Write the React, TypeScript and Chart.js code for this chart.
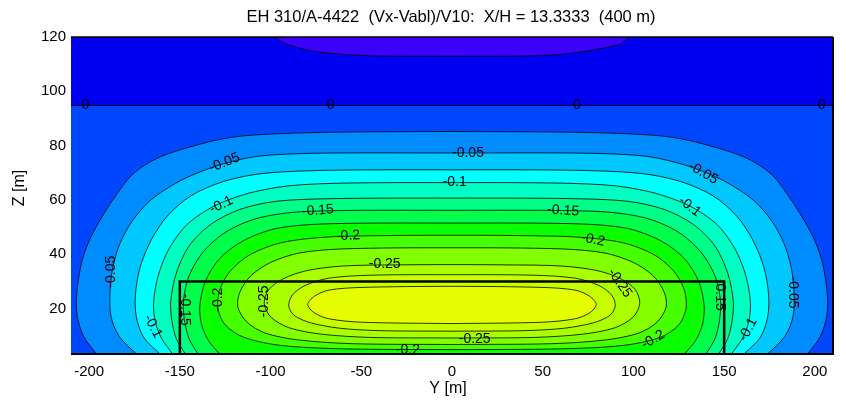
import React, { useEffect, useRef } from 'react';
import { Chart, registerables } from 'chart.js';

Chart.register(...registerables);

// ---------- text ----------
const TITLE = 'EH 310/A-4422  (Vx-Vabl)/V10:  X/H = 13.3333  (400 m)';
const X_TITLE = 'Y [m]';
const Y_TITLE = 'Z [m]';

// ---------- axes ----------
const Y_TICKS = [-200, -150, -100, -50, 0, 50, 100, 150, 200];
const Z_TICKS = [20, 40, 60, 80, 100, 120];
const Y_MIN = -210;
const Y_MAX = 210;
const Z_MIN = 3.3;
const Z_MAX = 120;

// ---------- contour levels (value of each closed contour) ----------
const LEVELS = [0.025, 0, -0.025, -0.05, -0.075, -0.1, -0.125, -0.15, -0.175, -0.2, -0.225, -0.25, -0.275, -0.3];

// band colours: [above +0.025, 0..0.025, -0.025..0, ..., below -0.3]
const BAND_COLORS = [
  '#3c00ff', '#0000f2', '#0046ff', '#008cff', '#00c8ff', '#00ffff', '#00ffc3',
  '#00ff87', '#00ff4b', '#0aff00', '#46ff00', '#82ff00', '#aaff00', '#c8ff00', '#e6ff00',
];

// ---------- contour lines: [Y (m), Z (m)] ----------
const FIELD_EDGE = [[-210, 0], [-210, 125], [210, 125], [210, 0]];
const LINE_P025 = [[-99.6, 120.5], [-91.3, 117.4], [-78.4, 115], [-60, 113.6], [-41, 113], [0, 112.9], [41, 113], [60, 113.6], [76, 115], [92.4, 117.3], [98.9, 120.5]];
const LINE_0 = [[-210, 94.8], [210, 94.8]];
const LINE_M025 = [[-196, 3.3], [-203, 9.7], [-206.5, 17], [-207, 24], [-204.5, 36], [-200, 45], [-194.5, 52], [-187, 60], [-176, 69.5], [-161, 75.8], [-137, 80.9], [-121, 83.1], [-105, 84.1], [-70, 84.9], [0, 85.2], [70, 84.9], [105, 84.1], [121, 83.1], [137, 80.9], [161, 75.8], [176, 69.5], [187, 60], [194.5, 52], [200, 45], [204.5, 36], [207, 24], [206.5, 17], [203, 9.7], [196, 3.3]];
const LINE_M050 = [[-174, 3.3], [-183.5, 9.8], [-188, 17.2], [-188.5, 26], [-187, 35], [-183, 44], [-176, 52.5], [-166, 60], [-150, 67], [-130, 72.5], [-108, 76], [-75, 77.2], [0, 77.3], [75, 77.2], [108, 76], [130, 72.5], [150, 67], [166, 60], [176, 52.5], [183, 44], [187, 35], [188.5, 26], [188, 17.2], [183.5, 9.8], [174, 3.3]];
const LINE_M075 = [[-161, 3.3], [-170, 9.5], [-174, 17], [-174.5, 25], [-172, 35], [-166, 45], [-157, 54], [-144, 61.5], [-126, 66.8], [-105, 69.7], [-70, 70.9], [0, 71.1], [70, 70.9], [105, 69.7], [126, 66.8], [144, 61.5], [157, 54], [166, 45], [172, 35], [174.5, 25], [174, 17], [170, 9.5], [161, 3.3]];
const LINE_M100 = [[-154, 3.3], [-160, 9], [-163.5, 15], [-164.5, 22], [-162, 32], [-156, 42], [-146, 51], [-131, 57.8], [-112, 62.5], [-90, 65.2], [-60, 66.2], [0, 66.4], [60, 66.2], [90, 65.2], [112, 62.5], [131, 57.8], [146, 51], [156, 42], [162, 32], [164.5, 22], [163.5, 15], [160, 9], [154, 3.3]];
const LINE_M125 = [[-147, 3.3], [-152, 9], [-154.5, 16], [-155, 23], [-152, 33], [-145, 43], [-133, 51], [-117, 56.5], [-97, 59.5], [-65, 60.5], [0, 60.7], [65, 60.5], [97, 59.5], [117, 56.5], [133, 51], [145, 43], [152, 33], [155, 23], [154.5, 16], [152, 9], [147, 3.3]];
const LINE_M150 = [[-140, 3.3], [-145, 9], [-147.5, 16], [-148, 23], [-145, 32], [-137, 41], [-124, 48.5], [-106, 53.5], [-80, 55.8], [0, 56.2], [80, 55.8], [106, 53.5], [124, 48.5], [137, 41], [145, 32], [148, 23], [147.5, 16], [145, 9], [140, 3.3]];
const LINE_M175 = [[-128, 3.3], [-134, 8], [-138, 14], [-139, 21], [-136, 30], [-128, 38.5], [-115, 45], [-97, 49.5], [-70, 51.2], [0, 51.5], [70, 51.2], [97, 49.5], [115, 45], [128, 38.5], [136, 30], [139, 21], [138, 14], [134, 8], [128, 3.3]];
const LINE_M200 = [[0, 4.9], [-60, 5.2], [-95, 6.5], [-115, 9.5], [-125, 14], [-129, 20], [-128, 27], [-122, 34], [-111, 40], [-94, 44.3], [-70, 46.3], [-35, 46.9], [0, 47], [35, 46.9], [70, 46.3], [94, 44.3], [111, 40], [122, 34], [128, 27], [129, 20], [125, 14], [115, 9.5], [95, 6.5], [60, 5.2], [0, 4.9]];
const LINE_M225 = [[0, 6.8], [-55, 7.1], [-85, 8.5], [-103, 11], [-113, 15], [-118, 20.5], [-117, 26], [-111, 32], [-100, 37], [-84, 40.5], [-60, 42], [0, 42.4], [60, 42], [84, 40.5], [100, 37], [111, 32], [117, 26], [118, 20.5], [113, 15], [103, 11], [85, 8.5], [55, 7.1], [0, 6.8]];
const LINE_M250 = [[0, 9.2], [-45, 9.4], [-72, 10.6], [-90, 13], [-100, 17], [-103.5, 22], [-101, 27], [-93, 31], [-80, 34], [-60, 35.7], [-30, 36.1], [0, 36.2], [30, 36.1], [60, 35.7], [80, 34], [93, 31], [101, 27], [103.5, 22], [100, 17], [90, 13], [72, 10.6], [45, 9.4], [0, 9.2]];
const LINE_M275 = [[0, 11.7], [-40, 11.9], [-62, 12.8], [-78, 14.8], [-87, 17.5], [-90, 21], [-88, 25], [-81, 28.5], [-68, 31.2], [-45, 32.3], [0, 32.5], [45, 32.3], [68, 31.2], [81, 28.5], [88, 25], [90, 21], [87, 17.5], [78, 14.8], [62, 12.8], [40, 11.9], [0, 11.7]];
const LINE_M300 = [[0, 14.5], [-50, 15], [-68, 16.3], [-76, 18.5], [-79.5, 21.5], [-76, 24.5], [-68, 26.8], [-50, 27.8], [0, 28.2], [50, 27.8], [68, 26.8], [76, 24.5], [79.5, 21.5], [76, 18.5], [68, 16.3], [50, 15], [0, 14.5]];

// zero band (below the 0 line)
const ZERO_BAND = [[-210, 0], [-210, 94.8], [210, 94.8], [210, 0]];

// building outline
const BUILDING = [[-150, 0], [-150, 30], [150, 30], [150, 0]];

// contour labels: [text, Y, Z, angle (deg)]
const LABELS: [string, number, number, number][] = [
  ['0', -202, 94.8, 0], ['0', -66.9, 94.8, 0], ['0', 68.8, 94.8, 0], ['0', 203.8, 94.8, 0],
  ['-0.05', -125.4, 73.7, -22], ['-0.05', 8.8, 77.3, 0], ['-0.05', 138.4, 69.9, 30],
  ['-0.05', -187.7, 33.6, -90], ['-0.05', 187.9, 25.9, 90],
  ['-0.1', 1.5, 66.4, 0], ['-0.1', -127.2, 58.2, -25], ['-0.1', 131, 57.6, 38],
  ['-0.1', -164.9, 13.5, 62], ['-0.1', 163.2, 12.3, -62],
  ['-0.15', -73.9, 56.1, -4], ['-0.15', 61.2, 56.1, 4], ['-0.15', -147.4, 19.6, 90], ['-0.15', 147.6, 25.1, 90],
  ['-0.2', -57.3, 46.8, -3], ['-0.2', 77.7, 45.4, 12], ['-0.2', -129, 23.3, -90], ['-0.2', -24.3, 4.9, 0], ['-0.2', 110.8, 8.6, -30],
  ['-0.25', -37.1, 36.2, 0], ['-0.25', -103.3, 22.7, -90], ['-0.25', 92.5, 29.4, 55], ['-0.25', 12.5, 8.9, 0],
];

const FONT = '"Liberation Sans", Arial, Helvetica, sans-serif';

export default function App() {
  const ref = useRef<HTMLCanvasElement>(null);

  useEffect(() => {
    const canvas = ref.current;
    if (!canvas) return;

    const toXY = (pts: number[][]) => pts.map(([x, y]) => ({ x, y }));

    // paint order: outermost first
    const paint: { pts: number[][]; fill: string | false; bw: number; color: string; tension: number }[] = [
      { pts: FIELD_EDGE, fill: BAND_COLORS[1], bw: 0, color: 'rgba(0,0,0,0)', tension: 0 },
      { pts: ZERO_BAND, fill: BAND_COLORS[2], bw: 0, color: 'rgba(0,0,0,0)', tension: 0 },
      { pts: LINE_P025, fill: BAND_COLORS[0], bw: 0.8, color: '#000', tension: 0.2 },
    ];
    const contourLines = [LINE_M025, LINE_M050, LINE_M075, LINE_M100, LINE_M125, LINE_M150, LINE_M175, LINE_M200, LINE_M225, LINE_M250, LINE_M275, LINE_M300];
    contourLines.forEach((pts, i) => {
      paint.push({ pts, fill: BAND_COLORS[i + 3], bw: 0.8, color: '#000', tension: 0.3 });
    });
    paint.push({ pts: LINE_0, fill: false, bw: 1, color: '#00002a', tension: 0 });
    paint.push({ pts: BUILDING, fill: false, bw: 2.5, color: '#000', tension: 0 });

    const n = paint.length;
    const datasets = paint.map((p, i) => ({
      label: i === 2 ? String(LEVELS[0]) : '',
      data: toXY(p.pts),
      showLine: true,
      fill: p.fill ? 'shape' : false,
      backgroundColor: p.fill || 'rgba(0,0,0,0)',
      borderColor: p.color,
      borderWidth: p.bw,
      pointRadius: 0,
      pointHoverRadius: 0,
      tension: p.tension,
      order: n - i,
    }));

    const decor = {
      id: 'decor',
      afterDatasetsDraw(chart: any) {
        const { ctx, chartArea: a, scales } = chart;
        ctx.save();
        ctx.beginPath();
        ctx.rect(a.left, a.top, a.right - a.left, a.bottom - a.top);
        ctx.clip();
        ctx.fillStyle = '#000';
        ctx.font = `14px ${FONT}`;
        ctx.textAlign = 'center';
        ctx.textBaseline = 'middle';
        for (const [t, y, z, ang] of LABELS) {
          const px = scales.x.getPixelForValue(y);
          const py = scales.y.getPixelForValue(z);
          ctx.save();
          ctx.translate(px, py);
          ctx.rotate((ang * Math.PI) / 180);
          ctx.fillText(t, 0, 0);
          ctx.restore();
        }
        ctx.restore();

        // frame
        ctx.save();
        ctx.strokeStyle = '#000';
        ctx.lineWidth = 1.5;
        ctx.beginPath();
        ctx.moveTo(a.left, a.top);
        ctx.lineTo(a.right, a.top);
        ctx.stroke();
        ctx.lineWidth = 2;
        ctx.beginPath();
        ctx.moveTo(a.right, a.top);
        ctx.lineTo(a.right, a.bottom);
        ctx.lineTo(a.left, a.bottom);
        ctx.stroke();
        ctx.restore();

        // titles
        ctx.save();
        ctx.fillStyle = '#000';
        ctx.font = `16.5px ${FONT}`;
        ctx.textAlign = 'center';
        ctx.textBaseline = 'middle';
        ctx.fillText(TITLE, 451, 17.5);
        ctx.font = `16px ${FONT}`;
        ctx.fillText(X_TITLE, 448, 389);
        ctx.translate(20, 188);
        ctx.rotate(-Math.PI / 2);
        ctx.fillText(Y_TITLE, 0, 0);
        ctx.restore();
      },
    };

    const chart = new Chart(canvas, {
      type: 'scatter',
      data: { datasets: datasets as any },
      options: {
        responsive: false,
        animation: false,
        events: [],
        layout: { padding: { top: 37, right: 13, bottom: 0, left: 0 } },
        plugins: {
          legend: { display: false },
          tooltip: { enabled: false },
          title: { display: false },
        },
        scales: {
          x: {
            type: 'linear',
            min: Y_MIN,
            max: Y_MAX,
            grid: { display: false, drawTicks: false },
            border: { display: false },
            afterBuildTicks: (axis: any) => {
              axis.ticks = Y_TICKS.map((v) => ({ value: v }));
            },
            afterFit: (axis: any) => {
              axis.height = 47;
            },
            ticks: {
              autoSkip: false,
              maxRotation: 0,
              padding: 9,
              color: '#000',
              font: { family: FONT, size: 15 },
              callback: (v: any) => String(v),
            },
          },
          y: {
            type: 'linear',
            min: Z_MIN,
            max: Z_MAX,
            grid: { display: false, drawTicks: false },
            border: { display: false },
            afterBuildTicks: (axis: any) => {
              axis.ticks = Z_TICKS.map((v) => ({ value: v }));
            },
            afterFit: (axis: any) => {
              axis.width = 71;
            },
            ticks: {
              autoSkip: false,
              padding: 5,
              color: '#000',
              font: { family: FONT, size: 15 },
              callback: (v: any) => String(v),
            },
          },
        },
      },
      plugins: [decor],
    });

    return () => chart.destroy();
  }, []);

  return (
    <div style={{ position: 'fixed', left: 0, top: 0, width: 846, height: 401, background: '#fff' }}>
      <canvas ref={ref} width={846} height={401} style={{ display: 'block', width: 846, height: 401 }} />
    </div>
  );
}
